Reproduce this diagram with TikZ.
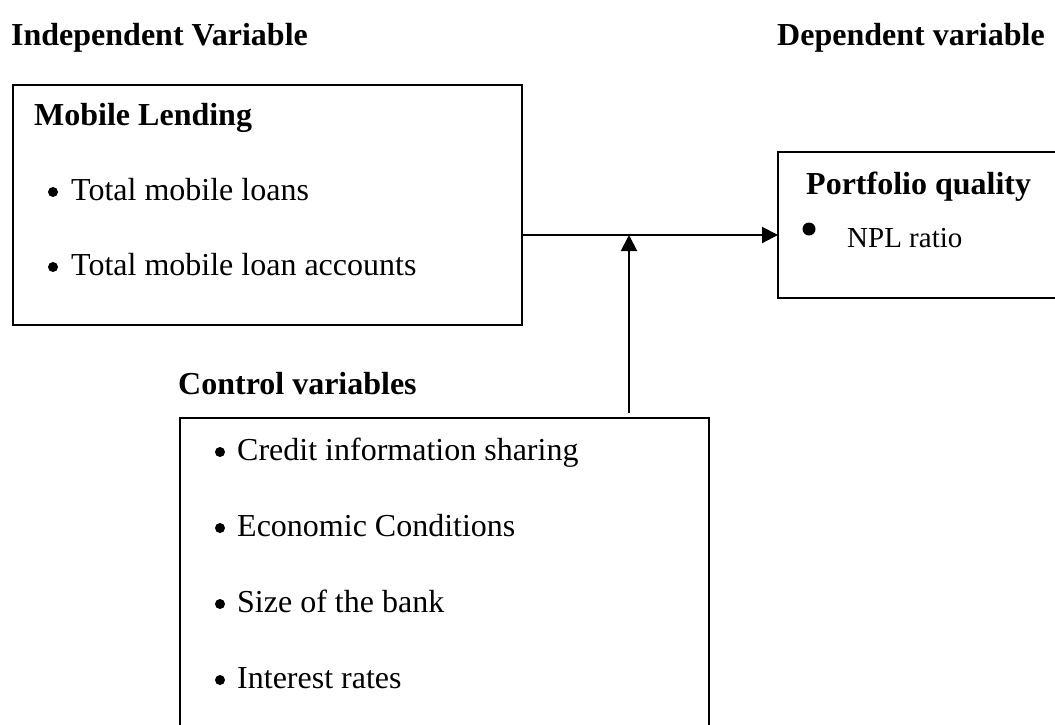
\documentclass[tikz,border=0pt]{standalone}
\usepackage{fontspec}
\setmainfont{Liberation Serif}
\usetikzlibrary{arrows.meta}
\begin{document}
\begin{tikzpicture}[x=1pt,y=-1pt,
  box/.style={draw,line width=1.5pt,inner sep=0,outer sep=0,anchor=north west},
  txt/.style={inner sep=0,anchor=base west,font=\fontsize{32}{38}\selectfont},
  head/.style={txt,font=\fontsize{32}{38}\selectfont\bfseries},
  small/.style={txt,font=\fontsize{29}{34}\selectfont},
  dot/.style={circle,fill,inner sep=0,minimum size=10pt},
  bigdot/.style={circle,fill,inner sep=0,minimum size=13pt},
  link/.style={line width=2pt,-{Triangle[length=16pt,width=16pt]}}]
\useasboundingbox (0,0) rectangle (1055,724);
\clip (0,0) rectangle (1055,724);

% column headings
\node[head] (ivh) at (11,45) {Independent Variable};
\node[head] (dvh) at (777,45) {Dependent variable};

% independent variable box
\node[box,minimum width=509pt,minimum height=240pt] (ml) at (13,85) {};
\node[head] (mlh) at (34,125) {Mobile Lending};
\node[dot] (mlb1) at (53,192) {};
\node[txt] (mlt1) at (71,200) {Total mobile loans};
\node[dot] (mlb2) at (53,267) {};
\node[txt] (mlt2) at (71,275) {Total mobile loan accounts};

% dependent variable box
\node[box,minimum width=400pt,minimum height=146pt] (pq) at (778,152) {};
\node[head] (pqh) at (806,194) {Portfolio quality};
\node[bigdot] (pqb) at (809,229) {};
\node[small] (pqt) at (847,247) {NPL ratio};

% control variables
\node[head] (cvh) at (178,394) {Control variables};
\node[box,minimum width=529pt,minimum height=400pt] (cv) at (180,418) {};
\node[dot] (cvb1) at (220,452) {};
\node[txt] (cvt1) at (237,460) {Credit information sharing};
\node[dot] (cvb2) at (220,528) {};
\node[txt] (cvt2) at (237,536) {Economic Conditions};
\node[dot] (cvb3) at (220,604) {};
\node[txt] (cvt3) at (237,612) {Size of the bank};
\node[dot] (cvb4) at (220,680) {};
\node[txt] (cvt4) at (237,688) {Interest rates};

% connectors
\coordinate (j) at (629,235);
\draw[link] (ml.east |- j) -- (pq.west |- j);
\draw[link] ([yshift=5pt]cv.north -| j) -- (j);
\end{tikzpicture}
\end{document}
